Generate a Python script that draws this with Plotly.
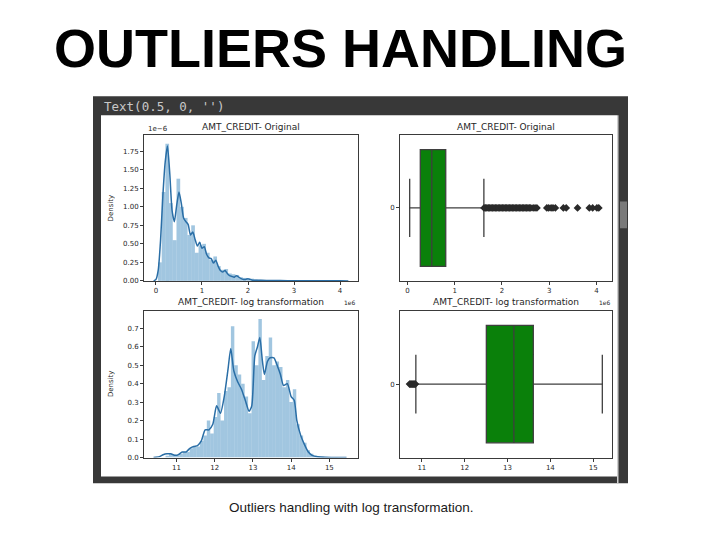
import plotly.graph_objects as go

W, H = 720, 534

# ---------------- data ----------------
# Original AMT_CREDIT (x in units of 1e6, density in units of 1e-6)
orig_bin_centers = [0.085, 0.165, 0.245, 0.325, 0.405, 0.486, 0.566, 0.646, 0.726, 0.806,
                    0.886, 0.966, 1.046, 1.126, 1.207, 1.287, 1.367, 1.447, 1.527, 1.607,
                    1.687, 1.767, 1.847, 1.928, 2.008, 2.088, 2.168, 2.248, 2.328, 2.408,
                    2.488, 2.568, 2.649, 2.729, 2.809, 2.889, 2.969, 3.049, 3.129, 3.209,
                    3.289, 3.369, 3.450, 3.530, 3.610, 3.690, 3.770, 3.850, 3.930, 4.010]
orig_bin_width = 0.0801
orig_density = [0.25, 1.20, 1.85, 1.05, 0.55, 1.38, 1.00, 0.85, 0.62, 0.75,
                0.38, 0.48, 0.50, 0.38, 0.28, 0.33, 0.20, 0.15, 0.16, 0.10,
                0.09, 0.08, 0.05, 0.04, 0.03, 0.03, 0.02, 0.015, 0.01, 0.01,
                0.008, 0.006, 0.005, 0.004, 0.003, 0.002, 0.002, 0.002, 0.001, 0.001,
                0.001, 0.001, 0.001, 0.0005, 0.0005, 0.0005, 0.0005, 0.0005, 0.0005, 0.0005]
orig_kde_x = [-0.05, 0.0, 0.05, 0.10, 0.15, 0.20, 0.25, 0.30, 0.35, 0.40, 0.45, 0.50, 0.55,
              0.60, 0.65, 0.70, 0.75, 0.80, 0.85, 0.90, 0.95, 1.00, 1.05, 1.10, 1.15, 1.20,
              1.25, 1.30, 1.35, 1.40, 1.45, 1.50, 1.55, 1.60, 1.65, 1.70, 1.75, 1.80, 1.85,
              1.90, 1.95, 2.00, 2.05, 2.10, 2.20, 2.30, 2.50, 2.70, 3.00, 3.50, 4.00, 4.18]
orig_kde_y = [0.0, 0.02, 0.15, 0.55, 1.15, 1.60, 1.82, 1.45, 0.95, 0.80, 1.02, 1.20, 1.05,
              0.85, 0.80, 0.76, 0.62, 0.66, 0.56, 0.47, 0.52, 0.44, 0.46, 0.36, 0.31, 0.30,
              0.24, 0.28, 0.20, 0.14, 0.12, 0.14, 0.10, 0.07, 0.06, 0.05, 0.07, 0.05, 0.03,
              0.02, 0.02, 0.03, 0.02, 0.01, 0.01, 0.008, 0.005, 0.004, 0.002, 0.001, 0.001, 0.0]

# Log-transformed AMT_CREDIT
log_bin_centers = [10.759, 10.849, 10.939, 11.029, 11.119, 11.209, 11.299, 11.389, 11.479, 11.569,
                   11.659, 11.749, 11.839, 11.929, 12.019, 12.109, 12.199, 12.289, 12.379, 12.469,
                   12.559, 12.649, 12.739, 12.829, 12.919, 13.009, 13.099, 13.189, 13.279, 13.369,
                   13.459, 13.549, 13.639, 13.729, 13.819, 13.909, 13.999, 14.089, 14.179, 14.269,
                   14.359, 14.449, 14.539, 14.629, 14.719, 14.809, 14.899, 14.989, 15.079, 15.169]
log_bin_width = 0.09
log_density = [0.01, 0.02, 0.015, 0.01, 0.02, 0.03, 0.03, 0.05, 0.06, 0.06,
               0.09, 0.12, 0.20, 0.13, 0.22, 0.35, 0.20, 0.36, 0.38, 0.71,
               0.50, 0.45, 0.40, 0.33, 0.24, 0.63, 0.50, 0.75, 0.42, 0.55,
               0.65, 0.50, 0.52, 0.49, 0.38, 0.42, 0.30, 0.37, 0.18, 0.12,
               0.08, 0.04, 0.02, 0.01, 0.006, 0.004, 0.002, 0.001, 0.001, 0.001]
log_kde_x = [10.40, 10.55, 10.65, 10.75, 10.85, 10.95, 11.05, 11.15, 11.25, 11.35, 11.45, 11.55,
             11.65, 11.75, 11.85, 11.95, 12.05, 12.15, 12.25, 12.35, 12.42, 12.50, 12.60, 12.70,
             12.80, 12.90, 12.97, 13.05, 13.12, 13.18, 13.25, 13.30, 13.38, 13.45, 13.55, 13.65,
             13.72, 13.80, 13.90, 14.00, 14.08, 14.15, 14.25, 14.35, 14.45, 14.55, 14.70, 14.90,
             15.10, 15.45]
log_kde_y = [0.0, 0.005, 0.015, 0.02, 0.02, 0.012, 0.015, 0.03, 0.03, 0.05, 0.06, 0.065,
             0.09, 0.15, 0.15, 0.18, 0.28, 0.24, 0.33, 0.48, 0.59, 0.47, 0.41, 0.37,
             0.31, 0.25, 0.28, 0.55, 0.60, 0.65, 0.52, 0.45, 0.52, 0.54, 0.54, 0.49,
             0.45, 0.39, 0.40, 0.33, 0.31, 0.20, 0.12, 0.07, 0.03, 0.012, 0.004, 0.001,
             0.0005, 0.0]

# Box plot statistics
orig_box = dict(q1=0.270, median=0.5135, q3=0.8087, low=0.045, high=1.6165)
orig_outliers = [1.62, 1.65, 1.68, 1.71, 1.74, 1.77, 1.80, 1.83, 1.86, 1.89, 1.92, 1.95, 1.98,
                 2.01, 2.04, 2.07, 2.10, 2.13, 2.16, 2.19, 2.22, 2.25, 2.28, 2.31, 2.34, 2.37,
                 2.40, 2.43, 2.46, 2.49, 2.52, 2.55, 2.58, 2.61, 2.66, 2.70, 2.74, 2.95, 2.99,
                 3.04, 3.08, 3.13, 3.30, 3.36, 3.60, 3.85, 3.92, 4.01, 4.05]
log_box = dict(q1=12.506, median=13.149, q3=13.603, low=10.86, high=15.214)
log_outliers = [10.714, 10.73, 10.75, 10.77, 10.79, 10.81, 10.83, 10.85]

orig_ticks = [0, 1, 2, 3, 4]
orig_y_ticks = [0.0, 0.25, 0.5, 0.75, 1.0, 1.25, 1.5, 1.75]
log_ticks = [11, 12, 13, 14, 15]
log_y_ticks = [0.0, 0.1, 0.2, 0.3, 0.4, 0.5, 0.6, 0.7]

title_orig = "AMT_CREDIT- Original"
title_log = "AMT_CREDIT- log transformation"

# ---------------- helpers ----------------
def fx(p):
    return p / W

def fy(p):
    return 1 - p / H

FONT = "DejaVu Sans"
TXT = "#262626"
AX = "#3a3a3a"
HIST = "rgba(31,119,180,0.42)"
KDE = "#2a6ea6"
GREEN = "#0a800a"
BOXLINE = "#3f3f3f"

panels = {
    "TL": (144, 358, 136, 283),
    "TR": (400, 612, 136, 283),
    "BL": (144, 358, 313, 461),
    "BR": (400, 612, 313, 461),
}

fig = go.Figure()

# Histogram + KDE (original)
fig.add_trace(go.Bar(x=orig_bin_centers, y=orig_density, width=orig_bin_width,
                     marker=dict(color=HIST, line=dict(width=0)), xaxis="x", yaxis="y"))
fig.add_trace(go.Scatter(x=orig_kde_x, y=orig_kde_y, mode="lines",
                         line=dict(color=KDE, width=1.5, shape="spline", smoothing=0.6),
                         xaxis="x", yaxis="y"))

# Box (original)
fig.add_trace(go.Box(q1=[orig_box["q1"]], median=[orig_box["median"]], q3=[orig_box["q3"]],
                     lowerfence=[orig_box["low"]], upperfence=[orig_box["high"]], y=[0],
                     orientation="h", width=0.8, whiskerwidth=0.5, fillcolor=GREEN,
                     line=dict(color=BOXLINE, width=1.3), boxpoints=False,
                     xaxis="x2", yaxis="y2"))
fig.add_trace(go.Scatter(x=orig_outliers, y=[0] * len(orig_outliers), mode="markers",
                         marker=dict(symbol="diamond", size=6, color="#2a2a2a"),
                         xaxis="x2", yaxis="y2"))

# Histogram + KDE (log)
fig.add_trace(go.Bar(x=log_bin_centers, y=log_density, width=log_bin_width,
                     marker=dict(color=HIST, line=dict(width=0)), xaxis="x3", yaxis="y3"))
fig.add_trace(go.Scatter(x=log_kde_x, y=log_kde_y, mode="lines",
                         line=dict(color=KDE, width=1.5, shape="spline", smoothing=0.6),
                         xaxis="x3", yaxis="y3"))

# Box (log)
fig.add_trace(go.Box(q1=[log_box["q1"]], median=[log_box["median"]], q3=[log_box["q3"]],
                     lowerfence=[log_box["low"]], upperfence=[log_box["high"]], y=[0],
                     orientation="h", width=0.8, whiskerwidth=0.5, fillcolor=GREEN,
                     line=dict(color=BOXLINE, width=1.3), boxpoints=False,
                     xaxis="x4", yaxis="y4"))
fig.add_trace(go.Scatter(x=log_outliers, y=[0] * len(log_outliers), mode="markers",
                         marker=dict(symbol="diamond", size=6, color="#2a2a2a"),
                         xaxis="x4", yaxis="y4"))

def axis_common():
    return dict(showline=True, linecolor=AX, linewidth=1, mirror=True, ticks="outside",
                ticklen=3, tickwidth=1, tickcolor=AX, showgrid=False, zeroline=False,
                tickfont=dict(family=FONT, size=7, color=TXT), fixedrange=True)

def dom(key):
    l, r, t, b = panels[key]
    return [fx(l), fx(r)], [fy(b), fy(t)]

xd, yd = dom("TL")
fig.update_layout(
    xaxis=dict(domain=xd, anchor="y", range=[-0.26, 4.39], tickvals=orig_ticks, **axis_common()),
    yaxis=dict(domain=yd, anchor="x", range=[0, 1.97], tickvals=orig_y_ticks, tickformat=".2f",
               **axis_common()),
)
xd, yd = dom("TR")
fig.update_layout(
    xaxis2=dict(domain=xd, anchor="y2", range=[-0.16, 4.33], tickvals=orig_ticks, **axis_common()),
    yaxis2=dict(domain=yd, anchor="x2", range=[0.5, -0.5], tickvals=[0], ticktext=["0"],
                **axis_common()),
)
xd, yd = dom("BL")
fig.update_layout(
    xaxis3=dict(domain=xd, anchor="y3", range=[10.15, 15.75], tickvals=log_ticks, **axis_common()),
    yaxis3=dict(domain=yd, anchor="x3", range=[0, 0.795], tickvals=log_y_ticks, tickformat=".1f",
                **axis_common()),
)
xd, yd = dom("BR")
fig.update_layout(
    xaxis4=dict(domain=xd, anchor="y4", range=[10.49, 15.44], tickvals=log_ticks, **axis_common()),
    yaxis4=dict(domain=yd, anchor="x4", range=[0.5, -0.5], tickvals=[0], ticktext=["0"],
                **axis_common()),
)

shapes = [
    dict(type="rect", xref="paper", yref="paper", x0=fx(93), x1=fx(628), y0=fy(487), y1=fy(97),
         fillcolor="#383838", line=dict(width=0), layer="below"),
    dict(type="rect", xref="paper", yref="paper", x0=fx(101), x1=fx(617), y0=fy(480), y1=fy(116),
         fillcolor="white", line=dict(width=0), layer="below"),
    dict(type="rect", xref="paper", yref="paper", x0=fx(617), x1=fx(618.5), y0=fy(487), y1=fy(116),
         fillcolor="#cfcfcf", line=dict(width=0), layer="below"),
    dict(type="rect", xref="paper", yref="paper", x0=fx(620), x1=fx(627), y0=fy(230), y1=fy(203),
         fillcolor="#7a7a7a", line=dict(width=0), layer="below"),
]

def ann(text, x, y, size, color=TXT, family=FONT, xanchor="center", yanchor="middle",
        angle=0, weight="normal"):
    return dict(text=text, x=fx(x), y=fy(y), xref="paper", yref="paper", showarrow=False,
                xanchor=xanchor, yanchor=yanchor, textangle=angle,
                font=dict(family=family, size=size, color=color, weight=weight))

annotations = [
    ann("OUTLIERS HANDLING", 340, 48, 54, color="#000000", family="Liberation Sans", weight="bold"),
    ann("Outliers handling with log transformation.", 351, 511, 13.5, color="#1a1a1a",
        family="Liberation Sans"),
    ann("Text(0.5, 0, '')", 102, 107, 12.5, color="#c8c8c8", family="DejaVu Sans Mono",
        xanchor="left"),
    ann(title_orig, 251, 128, 9),
    ann(title_orig, 506, 128, 9),
    ann(title_log, 251, 304, 9),
    ann(title_log, 506, 304, 9),
    ann("1e\u22126", 158, 130, 7),
    ann("1e6", 358, 305, 6, xanchor="right"),
    ann("1e6", 613, 305, 6, xanchor="right"),
    ann("Density", 111, 210, 7, angle=-90),
    ann("Density", 111, 387, 7, angle=-90),
]

fig.update_layout(
    width=W, height=H, margin=dict(l=0, r=0, t=0, b=0),
    paper_bgcolor="white", plot_bgcolor="white",
    showlegend=False, barmode="overlay",
    shapes=shapes, annotations=annotations,
)

fig.write_html("out.html")
